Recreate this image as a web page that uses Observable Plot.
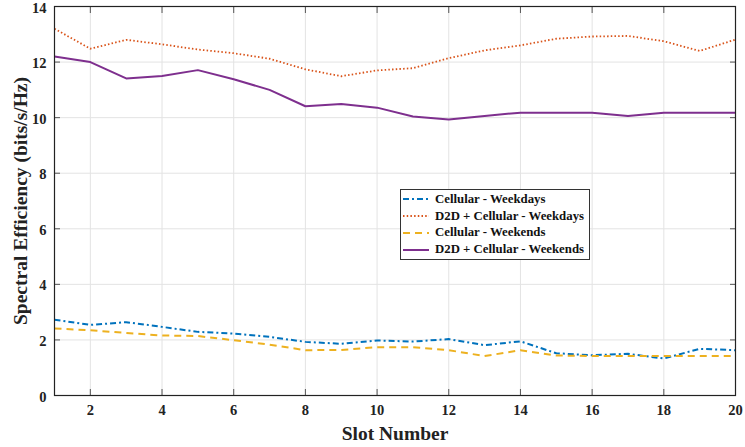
<!DOCTYPE html>
<html>
<head>
<meta charset="utf-8">
<script src="https://cdn.jsdelivr.net/npm/d3@7"></script>
<script src="https://cdn.jsdelivr.net/npm/@observablehq/plot@0.6"></script>
<style>
  html, body { margin: 0; padding: 0; background: #fff; }
  #chart { position: relative; width: 745px; height: 447px; }
  #chart svg { overflow: visible; }
  #chart svg text { font-family: "Liberation Serif", "Times New Roman", "DejaVu Serif", serif !important; font-weight: bold; fill: #222; }
  #legend {
    position: absolute; left: 400px; top: 189px;
    background: #fff; border: 1px solid #333;
    padding: 1px 5px 1px 2px;
    font-family: "Liberation Serif", "Times New Roman", "DejaVu Serif", serif;
    font-weight: bold; font-size: 12.8px; color: #111;
  }
  #legend .row { display: flex; align-items: center; height: 16.8px; white-space: nowrap; }
  #legend svg { margin-right: 6px; }
</style>
</head>
<body>
<div id="chart"></div>
<script>
// Time slots on the x axis
const slots = d3.range(1, 21);

// Spectral efficiency (bits/s/Hz) per slot
const cellularWeekdays = [2.73, 2.54, 2.64, 2.47, 2.29, 2.23, 2.11, 1.93, 1.86, 1.98,
                          1.94, 2.03, 1.81, 1.95, 1.52, 1.45, 1.50, 1.33, 1.68, 1.63];
const d2dWeekdays      = [13.2, 12.48, 12.8, 12.64, 12.45, 12.32, 12.12, 11.74, 11.49, 11.7,
                          11.78, 12.14, 12.42, 12.6, 12.84, 12.92, 12.94, 12.75, 12.4, 12.81];
const cellularWeekends = [2.41, 2.35, 2.25, 2.16, 2.14, 1.99, 1.83, 1.63, 1.64, 1.74,
                          1.74, 1.63, 1.42, 1.63, 1.44, 1.42, 1.42, 1.42, 1.42, 1.42];
const d2dWeekends      = [12.2, 12.0, 11.41, 11.5, 11.71, 11.38, 11.0, 10.41, 10.49, 10.36,
                          10.04, 9.93, 10.06, 10.18, 10.18, 10.18, 10.06, 10.18, 10.18, 10.18];

const xTicks = [2, 4, 6, 8, 10, 12, 14, 16, 18, 20];
const yTicks = [0, 2, 4, 6, 8, 10, 12, 14];

const seriesNames = [
  "Cellular - Weekdays",
  "D2D + Cellular - Weekdays",
  "Cellular - Weekends",
  "D2D + Cellular - Weekends"
];
const seriesValues = [cellularWeekdays, d2dWeekdays, cellularWeekends, d2dWeekends];
const seriesStyle = [
  {stroke: "#0072BD", dash: "6,3,2,3", width: 2},
  {stroke: "#D95319", dash: "1.5,2.2", width: 1.8},
  {stroke: "#EDB120", dash: "7,5", width: 2},
  {stroke: "#7E2F8E", dash: null, width: 2}
];

const rows = seriesNames.flatMap((name, i) =>
  slots.map((s, j) => ({series: name, slot: s, value: seriesValues[i][j]})));

const lineMarks = seriesNames.map((name, i) =>
  Plot.line(rows.filter(d => d.series === name), {
    x: "slot", y: "value",
    stroke: seriesStyle[i].stroke,
    strokeWidth: seriesStyle[i].width,
    strokeDasharray: seriesStyle[i].dash,
    strokeLinecap: "butt",
    strokeLinejoin: "round"
  }));

const tickColor = "#555";

const plot = Plot.plot({
  width: 745,
  height: 447,
  marginLeft: 54,
  marginRight: 10,
  marginTop: 6,
  marginBottom: 52,
  style: {fontSize: "14.5px", color: "#222", background: "#fff"},
  x: {domain: [1, 20]},
  y: {domain: [0, 14]},
  marks: [
    Plot.gridX(xTicks, {stroke: "#e3e3e3", strokeOpacity: 1, strokeWidth: 1}),
    Plot.gridY(yTicks, {stroke: "#e3e3e3", strokeOpacity: 1, strokeWidth: 1}),
    // tick labels and axis titles
    Plot.axisX(xTicks, {anchor: "bottom", tickSize: 0, tickPadding: 9, label: "Slot Number",
      labelAnchor: "center", labelOffset: 44, labelArrow: "none", fontSize: 14.5}),
    Plot.axisY(yTicks, {anchor: "left", tickSize: 0, tickPadding: 8, dy: 1.5, label: "Spectral Efficiency (bits/s/Hz)",
      labelAnchor: "center", labelOffset: 41, labelArrow: "none", fontSize: 14.5}),
    // inward ticks on all four sides
    Plot.axisX(xTicks, {anchor: "bottom", tickSize: -6, text: null, label: null, stroke: tickColor}),
    Plot.axisX(xTicks, {anchor: "top", tickSize: -6, text: null, label: null, stroke: tickColor}),
    Plot.axisY(yTicks, {anchor: "left", tickSize: -6, text: null, label: null, stroke: tickColor}),
    Plot.axisY(yTicks, {anchor: "right", tickSize: -6, text: null, label: null, stroke: tickColor}),
    ...lineMarks,
    Plot.frame({stroke: "#222", strokeWidth: 1.2})
  ]
});

// larger axis titles
d3.select(plot).selectAll("text")
  .filter(function() { return this.textContent === "Slot Number" || this.textContent.startsWith("Spectral"); })
  .style("font-size", "19.5px");

const chart = document.getElementById("chart");
chart.appendChild(plot);

// legend box
const legend = document.createElement("div");
legend.id = "legend";
seriesNames.forEach((name, i) => {
  const row = document.createElement("div");
  row.className = "row";
  const st = seriesStyle[i];
  row.innerHTML = `<svg width="26" height="6"><line x1="0" y1="3" x2="26" y2="3" stroke="${st.stroke}" stroke-width="${st.width}"${st.dash ? ` stroke-dasharray="${st.dash}"` : ""}/></svg><span>${name}</span>`;
  legend.appendChild(row);
});
chart.appendChild(legend);
</script>
</body>
</html>
